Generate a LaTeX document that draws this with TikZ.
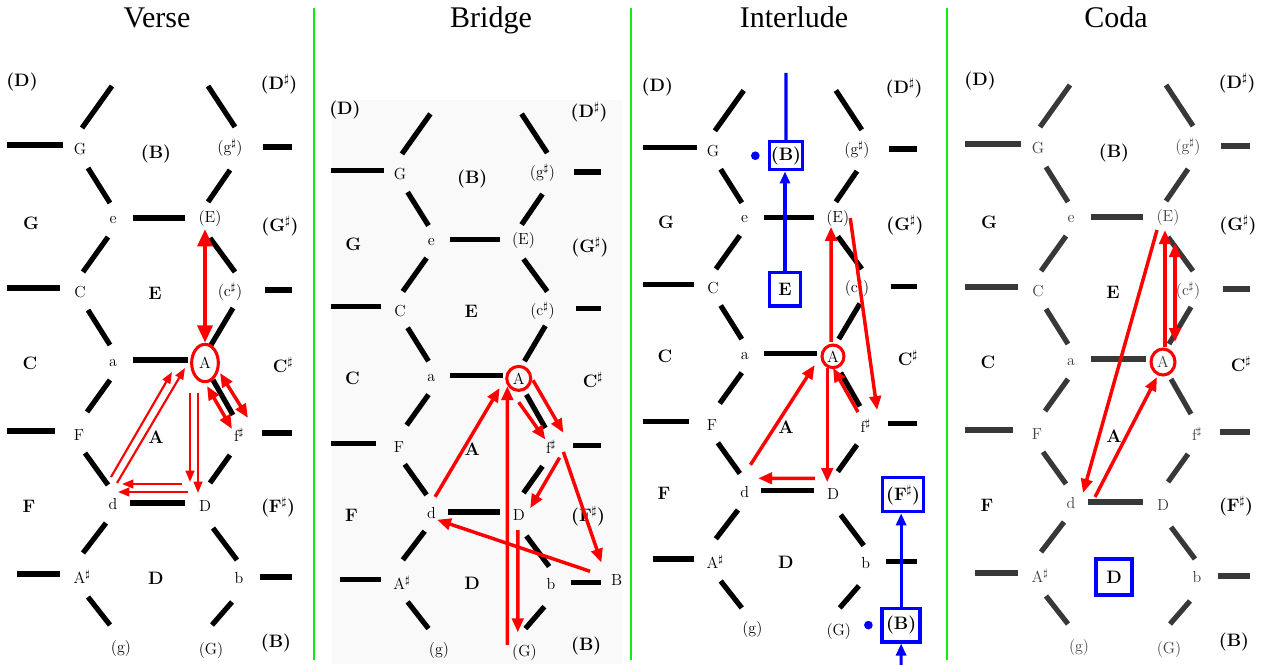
\documentclass[tikz,border=0pt]{standalone}
\usepackage{fontspec}
\newfontfamily\titlefont{Liberation Serif}
\usetikzlibrary{arrows.meta,calc,positioning,shapes.geometric}

\tikzset{every picture/.style={line width=0.9pt},
  ttitle/.style={font=\titlefont\fontsize{22.5}{24}\selectfont, anchor=base},
  tnote/.style={font=\fontsize{12}{13}\selectfont, inner sep=1pt},
  ttriad/.style={font=\fontsize{13.5}{15}\selectfont\bfseries, inner sep=1pt},
  lattice/.style={draw=black},
  seg/.style={lattice, line width=3.9pt},
  sep/.style={draw={rgb, 255:red, 20; green, 235; blue, 20}, line width=1.6pt},
  ring/.style={draw=red, line width=2.3pt, ellipse, inner sep=0pt},
  redarr/.style={draw=red, line width=2.6pt, >={Triangle[length=10.5pt,width=8.5pt]}},
  thinarr/.style={draw=red, line width=1.6pt, >={Triangle[length=8.5pt,width=6.5pt]}},
  bluebox/.style={draw=blue, line width=2.6pt, inner sep=0pt},
  bluearr/.style={draw=blue, line width=2.4pt, >={Triangle[length=9pt,width=7.5pt]}},
  bdot/.style={circle, fill=blue, inner sep=0pt, minimum size=6.5pt}
}

% one Tonnetz sheet, node names get the prefix #1
\newcommand{\tonnetz}[1]{%
  %Straight Lines [outer stubs]
  \draw[seg] (7,145) -- (63,145);
  \draw[seg] (7,288) -- (60,288);
  \draw[seg] (7,431) -- (55,431);
  \draw[seg] (17,574) -- (60,574);
  \draw[seg] (263,147) -- (292,147);
  \draw[seg] (265,290) -- (292,290);
  \draw[seg] (262,433) -- (292,433);
  \draw[seg] (260,577) -- (292,577);
  %Straight Lines [inner rungs]
  \draw[seg] (133,218) -- (185,218);
  \draw[seg] (133,360) -- (188,360);
  \draw[seg] (130,503) -- (185,503);
  %Straight Lines [left zigzag]
  \draw[seg] (82,128) -- (112,86);
  \draw[seg] (88,168) -- (110,203);
  \draw[seg] (108,237) -- (83,272);
  \draw[seg] (88,310) -- (110,345);
  \draw[seg] (110,380) -- (87,412);
  \draw[seg] (85,453) -- (108,485);
  \draw[seg] (106,523) -- (83,553);
  \draw[seg] (88,597) -- (110,625);
  %Straight Lines [right zigzag]
  \draw[seg] (208,86) -- (235,127);
  \draw[seg] (230,170) -- (208,202);
  \draw[seg] (210,238) -- (235,272);
  \draw[seg] (233,308) -- (211,345);
  \draw[seg] (213,380) -- (233,415);
  \draw[seg] (230,455) -- (210,483);
  \draw[seg] (213,528) -- (237,560);
  \draw[seg] (232,602) -- (212,625);
  % Text Node [vertices]
  \node[tnote] (#1G)  at (80,149)  {G};
  \node[tnote] (#1gs) at (230,148) {(g$^\sharp$)};
  \node[tnote] (#1e)  at (113,220) {e};
  \node[tnote] (#1E)  at (210,219) {(E)};
  \node[tnote] (#1C)  at (80,292)  {C};
  \node[tnote] (#1cs) at (230,292) {(c$^\sharp$)};
  \node[tnote] (#1a)  at (113,363) {a};
  \node[tnote] (#1A)  at (205,363) {A};
  \node[tnote] (#1F)  at (79,435)  {F};
  \node[tnote] (#1fs) at (239,435) {f$^\sharp$};
  \node[tnote] (#1d)  at (113,504) {d};
  \node[tnote] (#1D)  at (205,506) {D};
  \node[tnote] (#1As) at (82,577)  {A$^\sharp$};
  \node[tnote] (#1b)  at (239,578) {b};
  \node[tnote] (#1g)  at (121,648) {(g)};
  \node[tnote] (#1GG) at (211,650) {(G)};
  % Text Node [triads]
  \node[ttriad] (#1tD)  at (22,82)   {(D)};
  \node[ttriad] (#1tDs) at (279,84)  {(D$^\sharp$)};
  \node[ttriad] (#1tB)  at (156,154) {(B)};
  \node[ttriad] (#1tG)  at (31,223)  {G};
  \node[ttriad] (#1tGs) at (280,226) {(G$^\sharp$)};
  \node[ttriad] (#1tE)  at (155,293) {E};
  \node[ttriad] (#1tC)  at (30,363)  {C};
  \node[ttriad] (#1tCs) at (283,365) {C$^\sharp$};
  \node[ttriad] (#1tA)  at (156,437) {A};
  \node[ttriad] (#1tF)  at (29,506)  {F};
  \node[ttriad] (#1tFs) at (278,507) {(F$^\sharp$)};
  \node[ttriad] (#1tDD) at (156,578) {D};
  \node[ttriad] (#1tBB) at (276,643) {(B)};
}

\begin{document}
\begin{tikzpicture}[x=0.75pt,y=0.75pt,yscale=-1,xscale=1]
\useasboundingbox (0,0) rectangle (1266,664);

%Shape: Rectangle [bridge backdrop]
\fill[black!2.5] (332,100) rectangle (622,664);
%Straight Lines [separators]
\draw[sep] (314,8) -- (314,660);
\draw[sep] (631,8) -- (631,660);
\draw[sep] (947,8) -- (947,660);

% Text Node [titles]
\node[ttitle] (tverse) at (157,27) {Verse};
\node[ttitle] (tbridge) at (491,27) {Bridge};
\node[ttitle] (tinter) at (794,27) {Interlude};
\node[ttitle] (tcoda) at (1116,27) {Coda};

%Panel: Verse
\begin{scope}
\tonnetz{v}
\node[ring, minimum width=20pt, minimum height=28pt] (vring) at (vA) {};
\draw[redarr, line width=3pt, >={Triangle[length=13pt,width=11pt]}, <->] ($(vE)+(-5,10)$) -- (vring.north);
\draw[redarr, <->] ($(vA)+(2,23)$) -- ($(vfs)+(-7,-6)$);
\draw[redarr, <->] ($(vA)+(15,10)$) -- ($(vfs)+(9,-17)$);
\draw[thinarr, ->] ($(vd)+(-2,-27)$) -- ($(vA)+(-33,9)$);
\draw[thinarr, ->] ($(vd)+(4,-21)$) -- ($(vA)+(-20,5)$);
\draw[thinarr, ->] ($(vA)+(-15,30)$) -- ($(vD)+(-15,-24)$);
\draw[thinarr, ->] ($(vA)+(-7,30)$) -- ($(vD)+(-7,-13)$);
\draw[thinarr, ->] ($(vD)+(-23,-22)$) -- ($(vd)+(9,-20)$);
\draw[thinarr, ->] ($(vD)+(-17,-14)$) -- ($(vd)+(5,-12)$);
\end{scope}

%Panel: Bridge
\begin{scope}[shift={(324,31.7)}, xscale=0.95, yscale=0.955]
\tonnetz{b}
\node[tnote] (bBx) at (308,574) {B};
\node[ring, minimum width=18pt, minimum height=18pt] (bring) at (bA) {};
\draw[redarr, ->] ($(bd)+(4,-17)$) -- ($(bA)+(-20,10)$);
\draw[redarr, ->] ($(bGG)+(-18,-8)$) -- ($(bA)+(-12,8)$);
\draw[redarr, ->] ($(bA)+(0,25)$) -- ($(bfs)+(-6,-8)$);
\draw[redarr, ->] ($(bA)+(15,2)$) -- ($(bfs)+(13,-15)$);
\draw[redarr, ->] ($(bfs)+(9,11)$) -- ($(bD)+(12,-7)$);
\draw[redarr, ->] ($(bfs)+(13,5)$) -- ($(bBx)+(-16,-18)$);
\draw[redarr, ->] ($(bD)+(-1,16)$) -- ($(bGG)+(-7,-21)$);
\draw[redarr, ->] ($(bBx)+(-28,-9)$) -- ($(bd)+(6,7)$);
\end{scope}

%Panel: Interlude
\begin{scope}[shift={(636.2,7.9)}, scale=0.96]
\tonnetz{i}
\node[ring, minimum width=16.5pt, minimum height=17pt] (iring) at (iA) {};
\draw[redarr, ->] ($(iA)+(-2,-15)$) -- ($(iE)+(-7,9)$);
\draw[redarr, ->] ($(iE)+(13,0)$) -- ($(ifs)+(12,-16)$);
\draw[redarr, ->] ($(ifs)+(-8,-14)$) -- ($(iA)+(0,12)$);
\draw[redarr, ->] ($(id)+(6,-28)$) -- ($(iA)+(-19,9)$);
\draw[redarr, ->] ($(iA)+(-6,12)$) -- ($(iD)+(-6,-12)$);
\draw[redarr, ->] ($(iD)+(-19,-16)$) -- ($(id)+(14,-14)$);
% blue boxes
\node[bluebox, minimum width=24.75pt, minimum height=21pt] (iBbox) at (itB) {};
\node[bluebox, minimum width=23pt, minimum height=25pt] (iEbox) at (itE) {};
\node[bluebox, minimum width=31pt, minimum height=25.5pt] (iFsbox) at (itFs) {};
\node[bluebox, minimum width=28.5pt, minimum height=25pt] (iBBbox) at (itBB) {};
\node[bdot, left=5.6pt of iBbox] (idot1) {};
\node[bdot, left=5.3pt of iBBbox] (idot2) {};
\coordinate (itop) at ($(iBbox.north)+(0,-70)$);
\coordinate (ibot) at ($(iBBbox.south)+(0,25)$);
\draw[bluearr] (itop) -- (iBbox);
\draw[bluearr, ->] (iEbox.north) -- (iEbox.north |- iBbox.south);
\draw[bluearr, ->] (iBBbox.north) -- (iBBbox.north |- iFsbox.south);
\draw[bluearr, ->] (ibot) -- (iBBbox);
\end{scope}

%Panel: Coda
\begin{scope}[shift={(958,-1)}, lattice/.style={draw=black!78}, tnote/.append style={text=black!75}]
\tonnetz{c}
\node[ring, minimum width=18pt, minimum height=19.5pt] (cring) at (cA) {};
\draw[redarr, ->] ($(cE)+(-11,12)$) -- ($(cd)+(12,-10)$);
\draw[redarr, ->] ($(cd)+(24,-6)$) -- ($(cA)+(-6,15)$);
\draw[redarr, ->] ($(cA)+(2,-15)$) -- ($(cE)+(-3,12)$);
\draw[redarr, <->] ($(cE)+(7,25)$) -- ($(cA)+(12,-20)$);
\node[bluebox, minimum width=27pt, minimum height=27pt] (cDbox) at (ctDD) {};
\end{scope}

\end{tikzpicture}
\end{document}
